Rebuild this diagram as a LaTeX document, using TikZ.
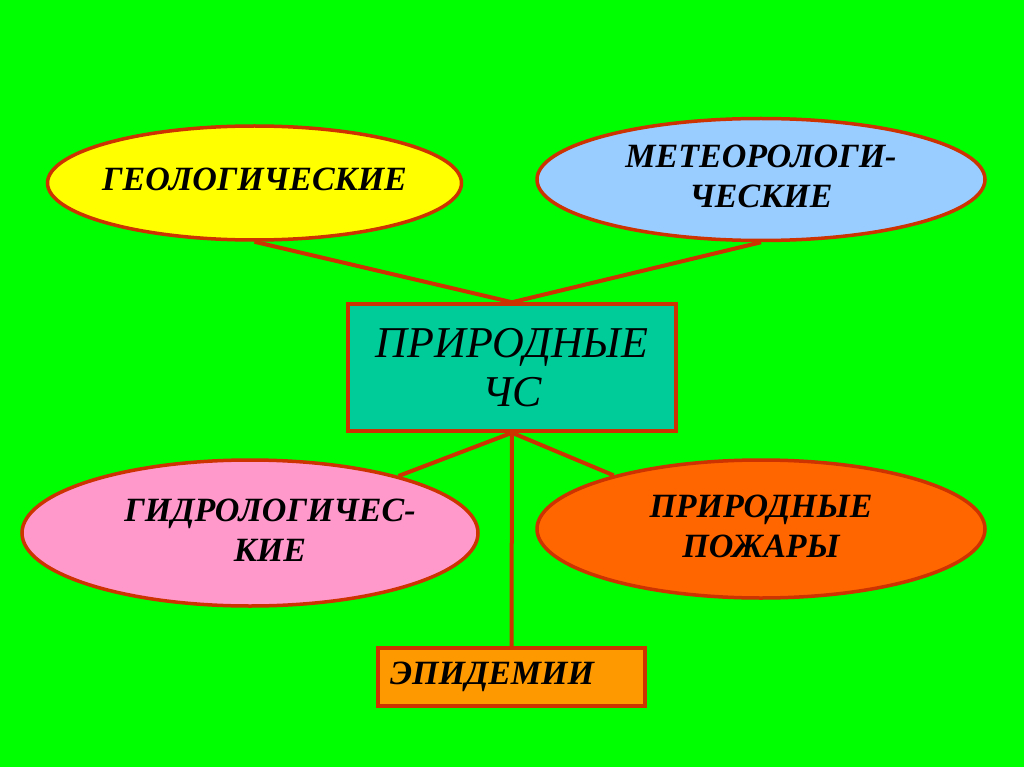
\documentclass[tikz,border=0pt]{standalone}
\usepackage{fontspec}
\setmainfont{Liberation Serif}
\usetikzlibrary{shapes.geometric}
\definecolor{bg}{HTML}{00FF00}
\definecolor{edge}{HTML}{CC3300}
\definecolor{cyellow}{HTML}{FFFF00}
\definecolor{cblue}{HTML}{99CCFF}
\definecolor{cpink}{HTML}{FF99CC}
\definecolor{cfire}{HTML}{FF6600}
\definecolor{cteal}{HTML}{00CC99}
\definecolor{corange}{HTML}{FF9900}
\newcommand{\ctext}[1]{\makebox[0pt][c]{\begin{tabular}{@{}c@{}}#1\end{tabular}}}
\tikzset{
  x=1pt, y=-1pt,
  oval/.style={ellipse, draw=edge, line width=3.5pt, inner sep=0pt,
    font=\fontsize{34}{40}\selectfont\bfseries\itshape},
  mainbox/.style={rectangle, draw=edge, line width=3.5pt, fill=cteal, inner sep=0pt,
    minimum width=328pt, minimum height=127pt, align=center,
    font=\fontsize{44}{49}\selectfont\itshape},
  smallbox/.style={rectangle, draw=edge, line width=3.5pt, fill=corange, inner sep=0pt,
    minimum width=267pt, minimum height=58pt,
    font=\fontsize{34}{40}\selectfont\bfseries\itshape},
  link/.style={draw=edge, line width=4pt}
}
\begin{document}
\begin{tikzpicture}
\fill[bg] (0,0) rectangle (1024,767);
\useasboundingbox (0,0) rectangle (1024,767);

\node[mainbox] (ctr) at (512,367.5) {ПРИРОДНЫЕ\\ЧС};
\node[oval, fill=cyellow, minimum width=414pt, minimum height=114pt] (geo) at (254.5,183) {\ctext{ГЕОЛОГИЧЕСКИЕ}};
\node[oval, fill=cblue, minimum width=448pt, minimum height=122pt] (met) at (761,179.5) {\ctext{МЕТЕОРОЛОГИ-\\ЧЕСКИЕ}};
\node[oval, fill=cpink, minimum width=456pt, minimum height=146pt] (hyd) at (250,533) {\hspace*{40pt}\ctext{ГИДРОЛОГИЧЕС-\\КИЕ}};
\node[oval, fill=cfire, minimum width=448pt, minimum height=138pt] (fire) at (761,529) {\ctext{ПРИРОДНЫЕ\\ПОЖАРЫ}};
\node[smallbox] (epi) at (511.5,677) {\makebox[267pt][l]{\hspace{12pt}ЭПИДЕМИИ}};

\draw[link] (geo.south) -- (ctr.north);
\draw[link] (met.south) -- (ctr.north);
\draw[link] (ctr.south) -- (hyd.21);
\draw[link] (ctr.south) -- (fire.160);
\draw[link] (ctr.south) -- (epi.north);
\end{tikzpicture}
\end{document}
